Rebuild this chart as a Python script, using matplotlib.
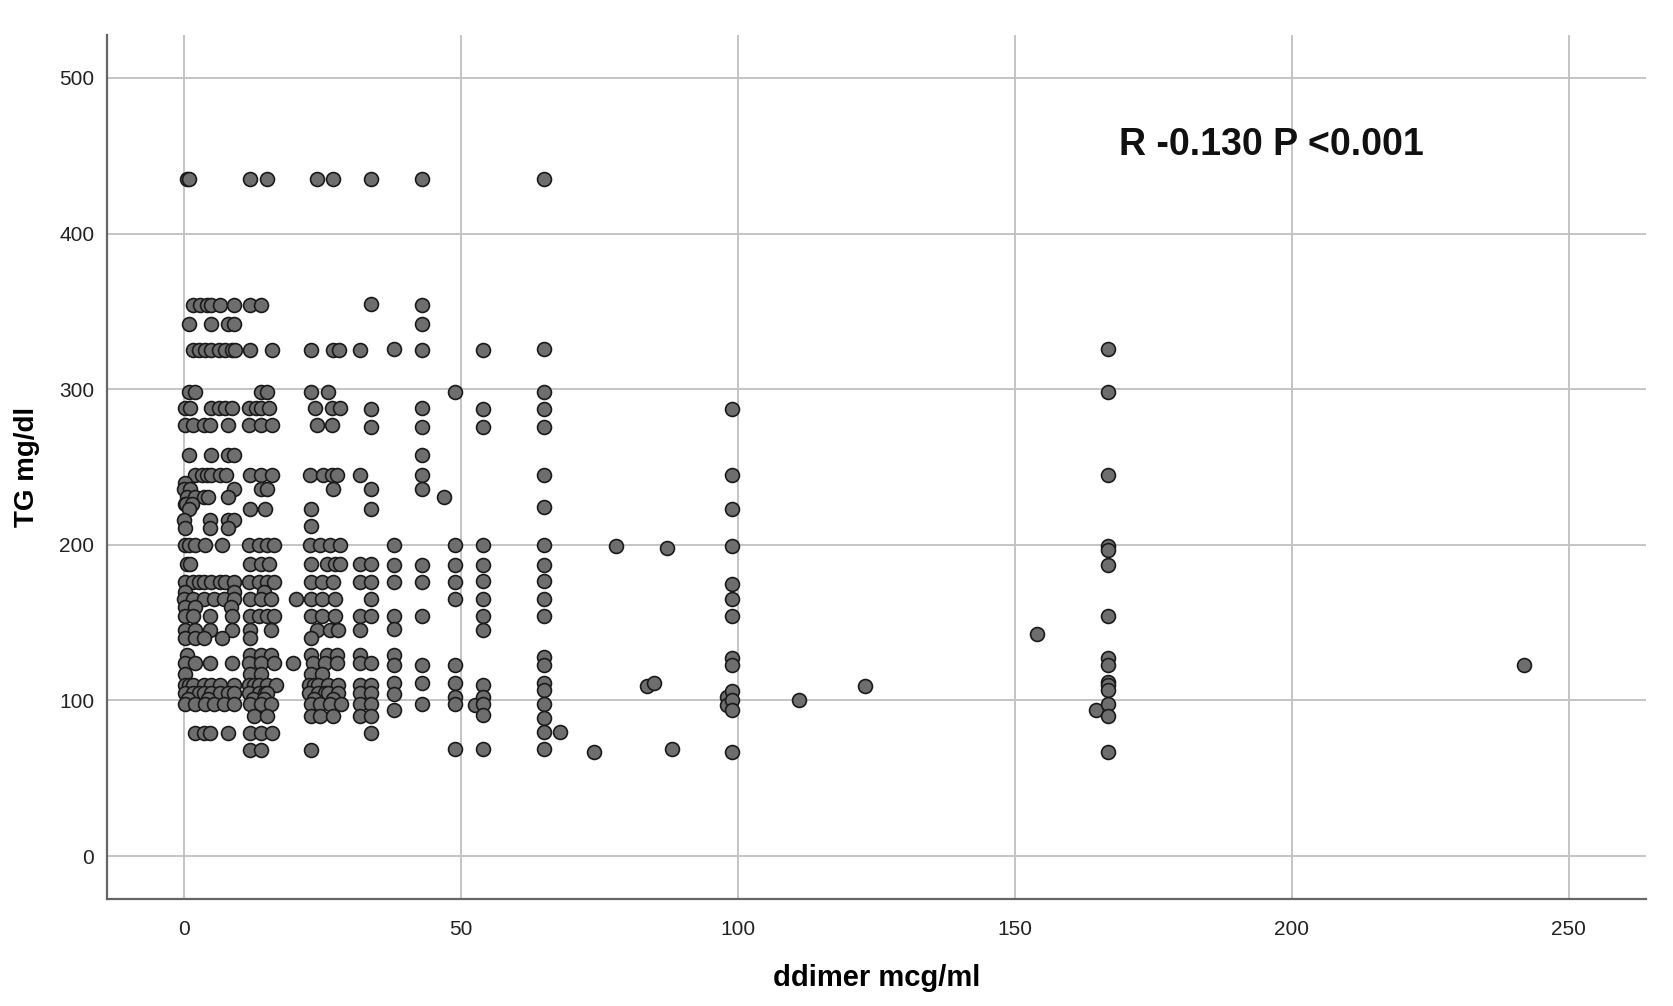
import matplotlib
matplotlib.use("Agg")
import matplotlib.pyplot as plt
import numpy as np

plt.rcParams['font.family'] = ['Liberation Sans', 'DejaVu Sans']

# dense block (ddimer < 30), grouped by TG level: ddimer values at each level
tg_rows = [435, 354, 342, 325, 298, 288, 277, 258, 245, 240, 236, 231, 226, 223, 216, 212,
           211, 200, 188, 176, 170, 165, 160, 154, 145, 140, 129, 124, 117, 110, 105, 101,
           98, 90, 79, 68]
ddimer_rows = [
    [0.5, 0.85, 12, 15, 24, 27],
    [1.75, 3, 4.2, 5, 6.5, 9, 12, 14],
    [0.85, 5, 8, 9],
    [1.75, 2.7, 3.9, 5, 6.3, 7.5, 8.7, 9.3, 12, 16, 23, 27, 28],
    [0.85, 2, 14, 15, 23, 26],
    [0.3, 1.2, 5, 6.3, 7.5, 8.7, 11.7, 13, 14, 15.3, 23.7, 26.7, 28.2],
    [0.3, 1.75, 3.6, 4.8, 8, 11.7, 14, 16, 24, 26.7],
    [0.85, 5, 8, 9],
    [2, 3.2, 4.2, 5, 6.5, 7.7, 12, 14, 16, 22.8, 25.2, 26.7, 27.6],
    [0.3],
    [0, 1.2, 9, 14, 15, 27],
    [0.6, 2, 3.6, 4.4, 8],
    [0.2, 0.4, 1.5],
    [0.85, 12, 14.7, 23],
    [0, 4.8, 8, 9],
    [23],
    [0.3, 4.8, 8],
    [0.3, 1, 2, 3.9, 6.9, 11.7, 13.5, 15, 16.3, 22.8, 24.6, 26.4, 28.2],
    [0.6, 1.2, 12, 14, 15.3, 23, 25.8, 27.3, 28.2],
    [0.3, 1.75, 2.8, 3.6, 5, 6.5, 7.5, 9, 11.7, 13.5, 15, 16.3, 23, 25, 27],
    [0.2, 9, 14.5],
    [0, 1.75, 3.6, 5.4, 7.2, 9, 12, 14, 15.8, 20.3, 23, 25, 27.3],
    [0.3, 2, 8.5],
    [0.3, 1.75, 4.8, 8.7, 12, 13.5, 15, 16.3, 23, 25, 27.3],
    [0.3, 2, 4.8, 8.7, 12, 15.8, 24, 26.4, 27.9],
    [0.3, 2, 3.6, 6.9, 12, 23],
    [0.6, 12, 14, 15.8, 23, 25.8, 27.6],
    [0.3, 2, 4.8, 8.7, 11.7, 14, 16.3, 19.7, 23.4, 25.4, 27.6],
    [0.3, 12, 14, 23, 25],
    [0.3, 1, 1.75, 3.6, 5, 6.5, 9, 11.7, 12.7, 13.5, 15, 16.6, 22.6, 23.5, 24.3, 26, 27.8],
    [0.3, 1.75, 2.7, 3.6, 5, 6.5, 8, 9, 11.7, 13.5, 14.7, 15, 22.6, 24.3, 25.5, 26, 27.8],
    [0.8, 4.4, 12.5, 14.5, 23.5, 27],
    [0.3, 2, 3.9, 5.4, 7.2, 9, 12, 14, 15.8, 23, 24.6, 26.4, 28.4],
    [12.6, 15, 23, 24.6, 27],
    [2, 3.6, 4.8, 8, 12, 14, 16],
    [12, 14, 23],
]

# sparser part (ddimer >= 30), grouped by ddimer value: TG values in each column
ddimer_cols = [31.8, 33.8, 37.9, 43, 47, 49, 52.6, 54, 65, 68, 74, 78, 83.7, 84.9,
               87.2, 88.1, 98, 99, 111, 123, 154, 164.6, 166.8, 242]
tg_cols = [
    [325, 245, 188, 176, 154, 145, 129, 124, 110, 105, 98, 90],
    [435, 355, 287, 276, 236, 223, 188, 176, 165, 154, 124, 110, 105, 98, 90, 79],
    [326, 200, 187, 176, 154, 146, 129, 123, 111, 104, 94],
    [435, 354, 342, 325, 288, 276, 258, 245, 236, 187, 176, 154, 123, 111, 98],
    [231],
    [298, 200, 187, 176, 165, 123, 111, 102, 98, 69],
    [97],
    [325, 287, 276, 200, 187, 177, 165, 154, 145, 110, 102, 98, 91, 69],
    [435, 326, 298, 287, 276, 245, 224, 200, 187, 177, 165, 154, 128, 123, 111, 107,
     98, 89, 80, 69],
    [80],
    [67],
    [199],
    [109],
    [111],
    [198],
    [69],
    [102, 97],
    [287, 245, 223, 199, 175, 165, 154, 127, 123, 106, 100, 94, 67],
    [100],
    [109],
    [143],
    [94],
    [326, 298, 245, 199, 197, 187, 154, 127, 123, 112, 110, 107, 98, 90, 67],
    [123],
]

x_ticks = [0, 50, 100, 150, 200, 250]
y_ticks = [0, 100, 200, 300, 400, 500]
annotation = "R -0.130 P <0.001"

ddimer = []
tg = []
for level, xs in zip(tg_rows, ddimer_rows):
    ddimer += xs
    tg += [level] * len(xs)
for col, ys in zip(ddimer_cols, tg_cols):
    ddimer += [col] * len(ys)
    tg += ys
ddimer = np.array(ddimer)
tg = np.array(tg)

fig = plt.figure(figsize=(16.74, 10.06), dpi=100)
ax = fig.add_axes([0.0638, 0.1064, 0.9196, 0.8586])

ax.scatter(ddimer, tg, s=100, facecolor='#6e6e6e', edgecolor='#1a1a1a',
           linewidth=1.2, zorder=3)

ax.set_xlim(-13.9, 264)
ax.set_ylim(-27.5, 527.4)
ax.set_xticks(x_ticks)
ax.set_yticks(y_ticks)
ax.grid(True, color='#c4c4c4', linewidth=1.4, zorder=0)
ax.set_axisbelow(True)

for side in ['top', 'right']:
    ax.spines[side].set_visible(False)
for side in ['left', 'bottom']:
    ax.spines[side].set_color('#666666')
    ax.spines[side].set_linewidth(1.6)

ax.tick_params(axis='both', length=0, labelsize=15, colors='#222222')
ax.tick_params(axis='x', pad=15)
ax.tick_params(axis='y', pad=9)

ax.set_xlabel("ddimer mcg/ml", fontsize=21, fontweight='bold', labelpad=18)
ax.set_ylabel("TG mg/dl", fontsize=20, fontweight='bold', labelpad=14)

ax.text(168.8, 457, annotation, fontsize=27, fontweight='bold',
        ha='left', va='center', color='#111111')

fig.savefig("out.png", dpi=100)
